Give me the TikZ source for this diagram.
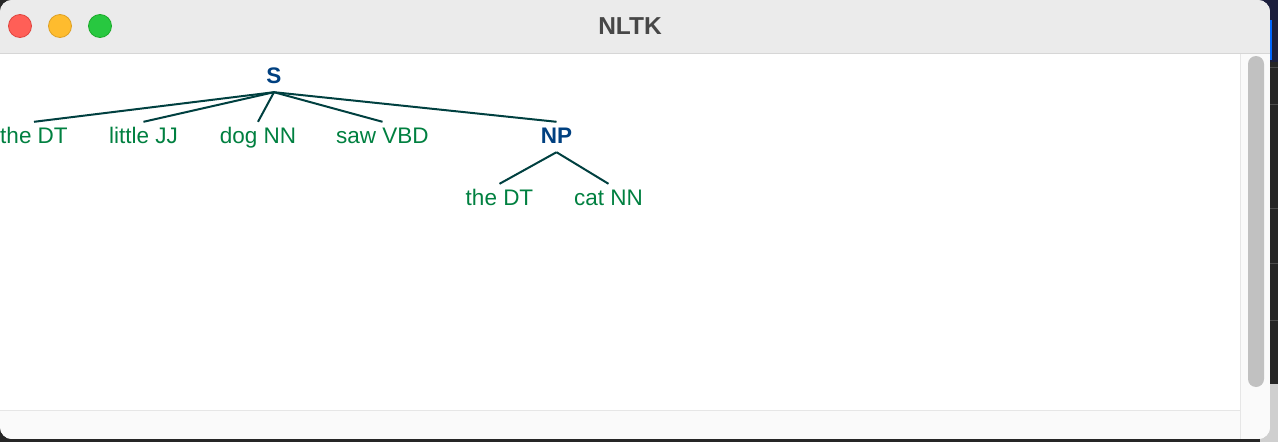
\documentclass[tikz,border=0pt]{standalone}
\usepackage{fontspec}
\setmainfont{Liberation Sans}
\usetikzlibrary{positioning}

\definecolor{leafgreen}{HTML}{008040}
\definecolor{nodeblue}{HTML}{004080}
\definecolor{edgeteal}{HTML}{004040}
\definecolor{titlebar}{HTML}{EBEBEB}
\definecolor{titletext}{HTML}{474747}
\definecolor{sepgray}{HTML}{D6D6D6}
\definecolor{scrollbg}{HTML}{FAFAFA}
\definecolor{scrollsep}{HTML}{E6E6E6}
\definecolor{thumbgray}{HTML}{C1C1C1}
\definecolor{desknavy}{HTML}{1C1F3D}
\definecolor{deskdark}{HTML}{262626}
\definecolor{desklight}{HTML}{CFCFCF}

\begin{document}
\begin{tikzpicture}[x=1pt,y=-1pt]

\tikzstyle{leafnode}=[text=leafgreen, font=\fontsize{22.5}{27}\selectfont, text height=16pt, text depth=4pt, inner xsep=0pt, inner ysep=5pt, anchor=base]
\tikzstyle{phrasenode}=[leafnode, text=nodeblue, font=\bfseries\fontsize{22.5}{27}\selectfont]
\tikzstyle{treeline}=[draw=edgeteal, line width=2pt]
\tikzstyle{light}=[circle, minimum size=23pt, inner sep=0pt, line width=0.8pt]

\useasboundingbox (0,0) rectangle (1278,442);

% DESKTOP
\fill[deskdark] (0,0) rectangle (1278,442);
\fill[desknavy] (1260,0) rectangle (1278,62);
\fill[desklight] (1260,384) rectangle (1278,442);
\draw[blue!60!cyan, line width=1.5pt] (1271,20) -- (1271,60);
\draw[gray!60!black] (1260,67) -- (1278,67);
\draw[gray!60!black] (1260,104) -- (1278,104);
\draw[gray!60!black] (1260,208) -- (1278,208);
\draw[gray!60!black] (1260,263) -- (1278,263);
\draw[gray!60!black] (1260,320) -- (1278,320);

% WINDOW
\begin{scope}
\clip[rounded corners=12pt] (0,0) rectangle (1270,439);
\fill[white] (0,0) rectangle (1270,439);
\fill[titlebar] (0,0) rectangle (1270,53);
\draw[sepgray, line width=1pt] (0,53.5) -- (1270,53.5);
\fill[scrollbg] (1240,54) rectangle (1270,439);
\fill[scrollbg] (0,411) rectangle (1240,439);
\draw[scrollsep, line width=1pt] (1240,54) -- (1240,439);
\draw[scrollsep, line width=1pt] (0,410.5) -- (1240,410.5);
\fill[thumbgray, rounded corners=8pt] (1248,56) rectangle (1264,387);
\end{scope}

% TITLE BAR
\node[light, fill={rgb,255:red,255;green,95;blue,87}, draw={rgb,255:red,224;green,68;blue,62}](close) at (20,26){};
\node[light, fill={rgb,255:red,254;green,188;blue,46}, draw={rgb,255:red,222;green,161;blue,35}](minimise) at (60,26){};
\node[light, fill={rgb,255:red,40;green,200;blue,64}, draw={rgb,255:red,26;green,171;blue,41}](zoom) at (100,26){};
\node[text=titletext, font=\bfseries\fontsize{24.5}{28}\selectfont](title) at (630,26){NLTK};

% NODES
% sentence
\node[phrasenode](S) at (274,83){S};
\node[leafnode](the1) at (34,143){the DT};
\node[leafnode](little) at (143.5,143){little JJ};
\node[leafnode](dog) at (258,143){dog NN};
\node[leafnode](saw) at (382.5,143){saw VBD};
\node[phrasenode](NP) at (556.5,143){NP};

% noun phrase
\node[leafnode](the2) at (499.5,205){the DT};
\node[leafnode](cat) at (608.5,205){cat NN};

% BRANCHES
\draw[treeline](S.south) -- (the1.north);
\draw[treeline](S.south) -- (little.north);
\draw[treeline](S.south) -- (dog.north);
\draw[treeline](S.south) -- (saw.north);
\draw[treeline](S.south) -- (NP.north);

\draw[treeline](NP.south) -- (the2.north);
\draw[treeline](NP.south) -- (cat.north);

\end{tikzpicture}
\end{document}
